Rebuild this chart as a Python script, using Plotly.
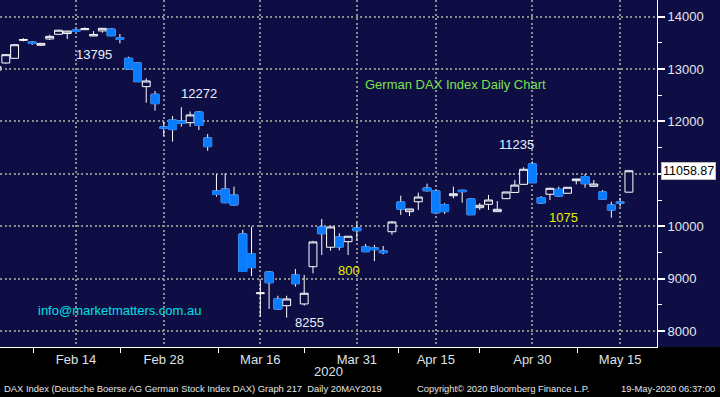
import plotly.graph_objects as go

# ---------------- data ----------------
dates = ["Feb 3", "Feb 4", "Feb 5", "Feb 6", "Feb 7", "Feb 10", "Feb 11", "Feb 12", "Feb 13", "Feb 14",
         "Feb 17", "Feb 18", "Feb 19", "Feb 20", "Feb 21", "Feb 24", "Feb 25", "Feb 26", "Feb 27", "Feb 28",
         "Mar 2", "Mar 3", "Mar 4", "Mar 5", "Mar 6", "Mar 9", "Mar 10", "Mar 11", "Mar 12", "Mar 13",
         "Mar 16", "Mar 17", "Mar 18", "Mar 19", "Mar 20", "Mar 23", "Mar 24", "Mar 25", "Mar 26", "Mar 27",
         "Mar 30", "Mar 31", "Apr 1", "Apr 2", "Apr 3", "Apr 6", "Apr 7", "Apr 8", "Apr 9", "Apr 14",
         "Apr 15", "Apr 16", "Apr 17", "Apr 20", "Apr 21", "Apr 22", "Apr 23", "Apr 24", "Apr 27", "Apr 28",
         "Apr 29", "Apr 30", "May 4", "May 5", "May 6", "May 7", "May 8", "May 11", "May 12", "May 13",
         "May 14", "May 15", "May 18"]

opens = [12980, 13116, 13206, 13548, 13515, 13455, 13575, 13665, 13680, 13746,
         13752, 13632, 13728, 13765, 13595, 13206, 13116, 12665, 12519, 11895,
         12028, 12010, 11977, 12180, 11684, 10672, 10710, 10596, 9852, 9470,
         8712, 9126, 8611, 8483, 9069, 8516, 9227, 9986, 9598, 9795,
         9705, 9966, 9604, 9585, 9527, 9895, 10462, 10278, 10467, 10729,
         10672, 10412, 10583, 10686, 10519, 10354, 10418, 10278, 10526, 10645,
         10800, 11188, 10545, 10610, 10705, 10629, 10869, 10946, 10762, 10653,
         10405, 10462, 10650]

highs = [13070, 13285, 13480, 13590, 13535, 13500, 13655, 13750, 13735, 13752,
         13795, 13725, 13785, 13775, 13670, 13236, 13125, 12824, 12582, 11996,
         12104, 12272, 12190, 12200, 11760, 10991, 11010, 10755, 9930, 9990,
         8955, 9145, 8673, 8673, 9183, 9069, 9720, 10139, 9990, 9865,
         9815, 10075, 9660, 9642, 9623, 10100, 10583, 10332, 10640, 10812,
         10680, 10440, 10755, 10700, 10525, 10440, 10596, 10480, 10660, 10882,
         11125, 11235, 10577, 10735, 10755, 10745, 10905, 10991, 10882, 10691,
         10468, 10533, 11075]

lows = [12950, 13105, 13200, 13530, 13460, 13440, 13555, 13660, 13575, 13712,
        13750, 13628, 13695, 13630, 13492, 13000, 12755, 12358, 12206, 11722,
        11614, 11900, 11900, 11837, 11440, 10564, 10437, 10392, 9130, 9050,
        8270, 8420, 8400, 8255, 8846, 8483, 9100, 9451, 9533, 9540,
        9451, 9724, 9505, 9336, 9464, 9838, 10215, 10195, 10310, 10660,
        10250, 10234, 10533, 10449, 10215, 10310, 10310, 10275, 10520, 10640,
        10795, 10830, 10425, 10500, 10564, 10625, 10800, 10736, 10760, 10515,
        10163, 10373, 10645]

closes = [13045, 13275, 13465, 13565, 13495, 13490, 13625, 13742, 13725, 13720,
          13772, 13660, 13778, 13637, 13570, 13002, 12760, 12773, 12340, 11870,
          11845, 11965, 12125, 11925, 11520, 10605, 10450, 10408, 9135, 9209,
          8728, 8922, 8420, 8611, 8903, 8720, 9700, 9858, 9986, 9604,
          9808, 9915, 9514, 9553, 9495, 10081, 10328, 10329, 10557, 10678,
          10257, 10279, 10620, 10660, 10220, 10400, 10500, 10323, 10653, 10785,
          11087, 10831, 10443, 10724, 10577, 10743, 10901, 10812, 10806, 10519,
          10310, 10443, 11058.87]

x_tick_labels = ["Feb 14", "Feb 28", "Mar 16", "Mar 31", "Apr 15", "Apr 30", "May 15"]
y_tick_values = [8000, 9000, 10000, 11000, 12000, 13000, 14000]
# the 11000 label is hidden behind the last-price tag in the original
y_tick_texts = ["8000", "9000", "10000", "", "12000", "13000", "14000"]

# chart notes: (text, date index position, price level, colour)
notes = [
    ("13795", 11.05, 13270, "#e8f0ff"),
    ("12272", 23.0, 12543, "#e8f0ff"),
    ("11235", 59.15, 11551, "#e8f0ff"),
    ("8255", 35.6, 8153, "#e8f0ff"),
    ("800", 40.1, 9164, "#e6f000"),
    ("1075", 64.6, 10176, "#e6f000"),
    ("German DAX Index Daily Chart", 52.2, 12715, "#7be04a"),
    ("info@marketmatters.com.au", 13.9, 8382, "#00e0e6"),
]

# ---------------- figure ----------------
NAVY = "#0f0e44"
BLUE = "#0a7cff"
FONT = "Liberation Sans, Arial, sans-serif"

idx = list(range(len(dates)))
tick_pos = [dates.index(d) for d in x_tick_labels]

fig = go.Figure()
# full candles: white wicks / outlines
fig.add_trace(go.Candlestick(
    x=idx, open=opens, high=highs, low=lows, close=closes,
    increasing=dict(line=dict(color="white", width=1), fillcolor=NAVY),
    decreasing=dict(line=dict(color="white", width=1), fillcolor=BLUE),
    whiskerwidth=0, showlegend=False, text=dates, hoverinfo="text+y",
))
# solid blue bodies for falling days (no wick)
down = [i for i in idx if closes[i] < opens[i]]
fig.add_trace(go.Candlestick(
    x=down,
    open=[opens[i] for i in down], close=[closes[i] for i in down],
    high=[opens[i] for i in down], low=[closes[i] for i in down],
    increasing=dict(line=dict(color=BLUE, width=1), fillcolor=BLUE),
    decreasing=dict(line=dict(color=BLUE, width=1), fillcolor=BLUE),
    whiskerwidth=0, showlegend=False, hoverinfo="skip",
))

annotations = []
for text, xi, yv, col in notes:
    annotations.append(dict(x=xi, y=yv, xref="x", yref="y", text=text, showarrow=False,
                            font=dict(family=FONT, size=13, color=col)))

# last price tag
annotations.append(dict(x=1.0, y=closes[-1], xref="paper", yref="y", xanchor="left", xshift=4,
                        text=f"{closes[-1]:.2f}", showarrow=False, bgcolor="white",
                        bordercolor="#bbbbbb", borderwidth=1, borderpad=1,
                        font=dict(family=FONT, size=12.5, color="black")))
# year under axis
annotations.append(dict(x=0.5, y=-0.072, xref="paper", yref="paper", text="2020", showarrow=False,
                        yanchor="middle", font=dict(family=FONT, size=13, color="#dde2ea")))
# footer
footer_font = dict(family=FONT, size=9.4, color="#e6e6e6")
annotations.append(dict(x=2 / 657, y=-0.121, xref="paper", yref="paper", xanchor="left", yanchor="middle",
                        text="DAX Index (Deutsche Boerse AG German Stock Index DAX) Graph 217  Daily 20MAY2019",
                        showarrow=False, font=footer_font))
annotations.append(dict(x=415 / 657, y=-0.121, xref="paper", yref="paper", xanchor="left", yanchor="middle",
                        text="Copyright\u00a9 2020 Bloomberg Finance L.P.", showarrow=False, font=footer_font))
annotations.append(dict(x=717 / 657, y=-0.121, xref="paper", yref="paper", xanchor="right", yanchor="middle",
                        text="19-May-2020 06:37:00", showarrow=False, font=footer_font))

fig.update_layout(
    width=720, height=397,
    margin=dict(l=0, r=63, t=0, b=50, autoexpand=False),
    paper_bgcolor=NAVY, plot_bgcolor=NAVY,
    boxgap=0.1, boxgroupgap=0,
    hovermode="closest",
    annotations=annotations,
    shapes=[dict(type="rect", xref="paper", yref="paper", x0=-0.05, x1=1.2, y0=-0.3, y1=0,
                 fillcolor="black", line=dict(width=0), layer="below")],
    xaxis=dict(
        range=[0.338, 75.2], rangeslider=dict(visible=False), automargin=False,
        tickmode="array", tickvals=tick_pos, ticktext=x_tick_labels,
        showgrid=True, gridcolor="#8c8c8c", gridwidth=1.5, griddash="2px,2.5px",
        zeroline=False, showline=True, linecolor="white", linewidth=1,
        ticks="", tickfont=dict(family=FONT, size=13, color="#dde2ea"),
        minor=dict(tickmode="array", tickvals=[4.1, 14.1, 25.2, 35.0, 45.8, 55.0, 66.1],
                   ticks="outside", ticklen=5, tickwidth=1, tickcolor="white", showgrid=False),
        fixedrange=True,
    ),
    yaxis=dict(
        side="right", range=[7694, 14319], automargin=False,
        tickmode="array", tickvals=y_tick_values, ticktext=y_tick_texts,
        showgrid=True, gridcolor="#8c8c8c", gridwidth=1.5, griddash="2px,2.5px",
        zeroline=False, showline=True, linecolor="white", linewidth=1,
        ticks="outside", ticklen=7, tickwidth=2, tickcolor="white",
        tickfont=dict(family=FONT, size=13, color="#e2e6ee"),
        minor=dict(tickmode="linear", tick0=7500, dtick=500, ticks="outside", ticklen=4,
                   tickwidth=1, tickcolor="white", showgrid=False),
        fixedrange=True,
    ),
)

fig.write_html("out.html", config={"displayModeBar": False},
               post_script="document.body.style.margin='0';document.body.style.background='#000';")
